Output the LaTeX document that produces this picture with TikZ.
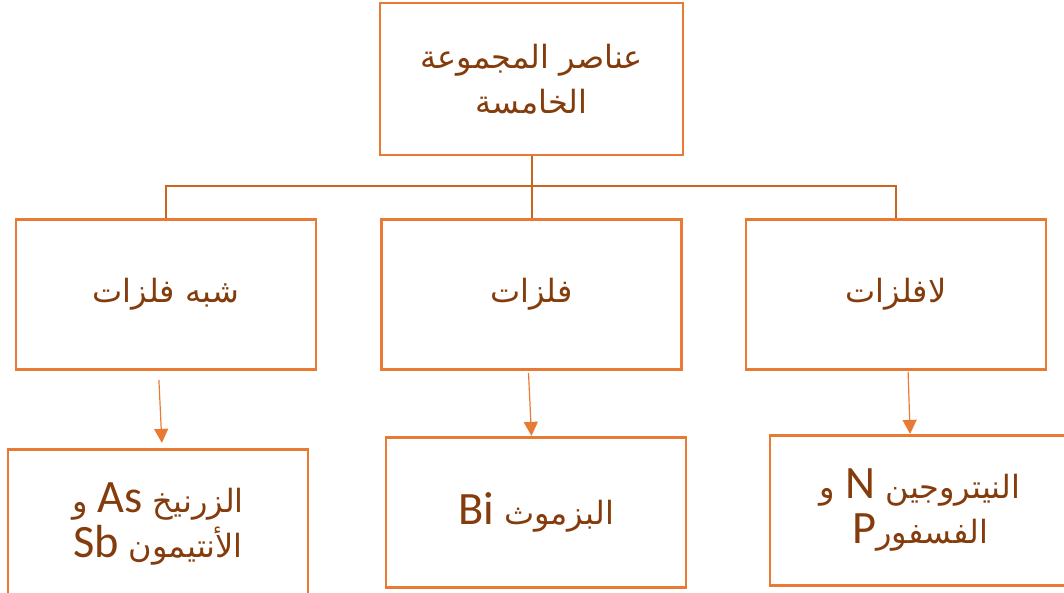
\documentclass[tikz,border=0pt]{standalone}
\usepackage{fontspec}
\setmainfont{Carlito}
\newfontfamily\arabicfont[Script=Arabic]{DejaVu Sans}
\newfontfamily\latinfont[Scale=1.45]{Carlito}
\TeXXeTstate=1
\usetikzlibrary{arrows.meta,positioning}
\definecolor{boxline}{HTML}{E97A34}
\definecolor{treeline}{HTML}{C9651F}
\definecolor{txt}{HTML}{843C0C}

\begin{document}
\begin{tikzpicture}[
    x=1pt,y=-1pt,
    box/.style={draw=boxline,line width=2.6pt,fill=white,minimum width=300pt,minimum height=150pt,align=center,text=txt,inner sep=0pt,font=\fontsize{32}{45}\selectfont\arabicfont},
    tree/.style={draw=treeline,line width=2pt},
    arr/.style={->,draw=boxline,line width=1.2pt,>={Triangle[length=14pt,width=14pt]}}
]
\useasboundingbox (0,0) rectangle (1064,592);
\node[box,minimum width=303pt,minimum height=152pt] (G) at (531.5,79) {\beginR عناصر المجموعة\endR\\\beginR الخامسة\endR};
\node[box,below=62pt of G] (MT) {\beginR فلزات\endR};
\node[box,left=63pt of MT] (SM) {\beginR شبه فلزات\endR};
\node[box,right=62pt of MT] (NM) {\beginR لافلزات\endR};

\node[box,below=77pt of SM,xshift=-8pt] (AS) {\beginR الزرنيخ \beginL{\latinfont As}\endL{} و\endR\\\beginR الأنتيمون \beginL{\latinfont Sb}\endL\endR};
\node[box,below=65pt of MT,xshift=4.5pt] (BI) {\beginR البزموث \beginL{\latinfont Bi}\endL\endR};
\node[box,below=63pt of NM,xshift=24pt] (NP) {\beginR النيتروجين \beginL{\latinfont N}\endL{} و\endR\\\beginR الفسفور\beginL{\latinfont P}\endL\endR};

\draw[tree] (G.south) -- (MT.north);
\draw[tree] (G.south) ++(0,30) -| (SM.north);
\draw[tree] (G.south) ++(0,30) -| (NM.north);

\draw[arr] ([xshift=-7pt,yshift=-9pt]SM.south) -- ([xshift=4pt,yshift=5pt]AS.north);
\draw[arr] ([xshift=-3pt,yshift=-2pt]MT.south) -- ([xshift=-4.5pt]BI.north);
\draw[arr] ([xshift=12pt,yshift=-1pt]NM.south) -- ([xshift=-10pt]NP.north);
\end{tikzpicture}
\end{document}
